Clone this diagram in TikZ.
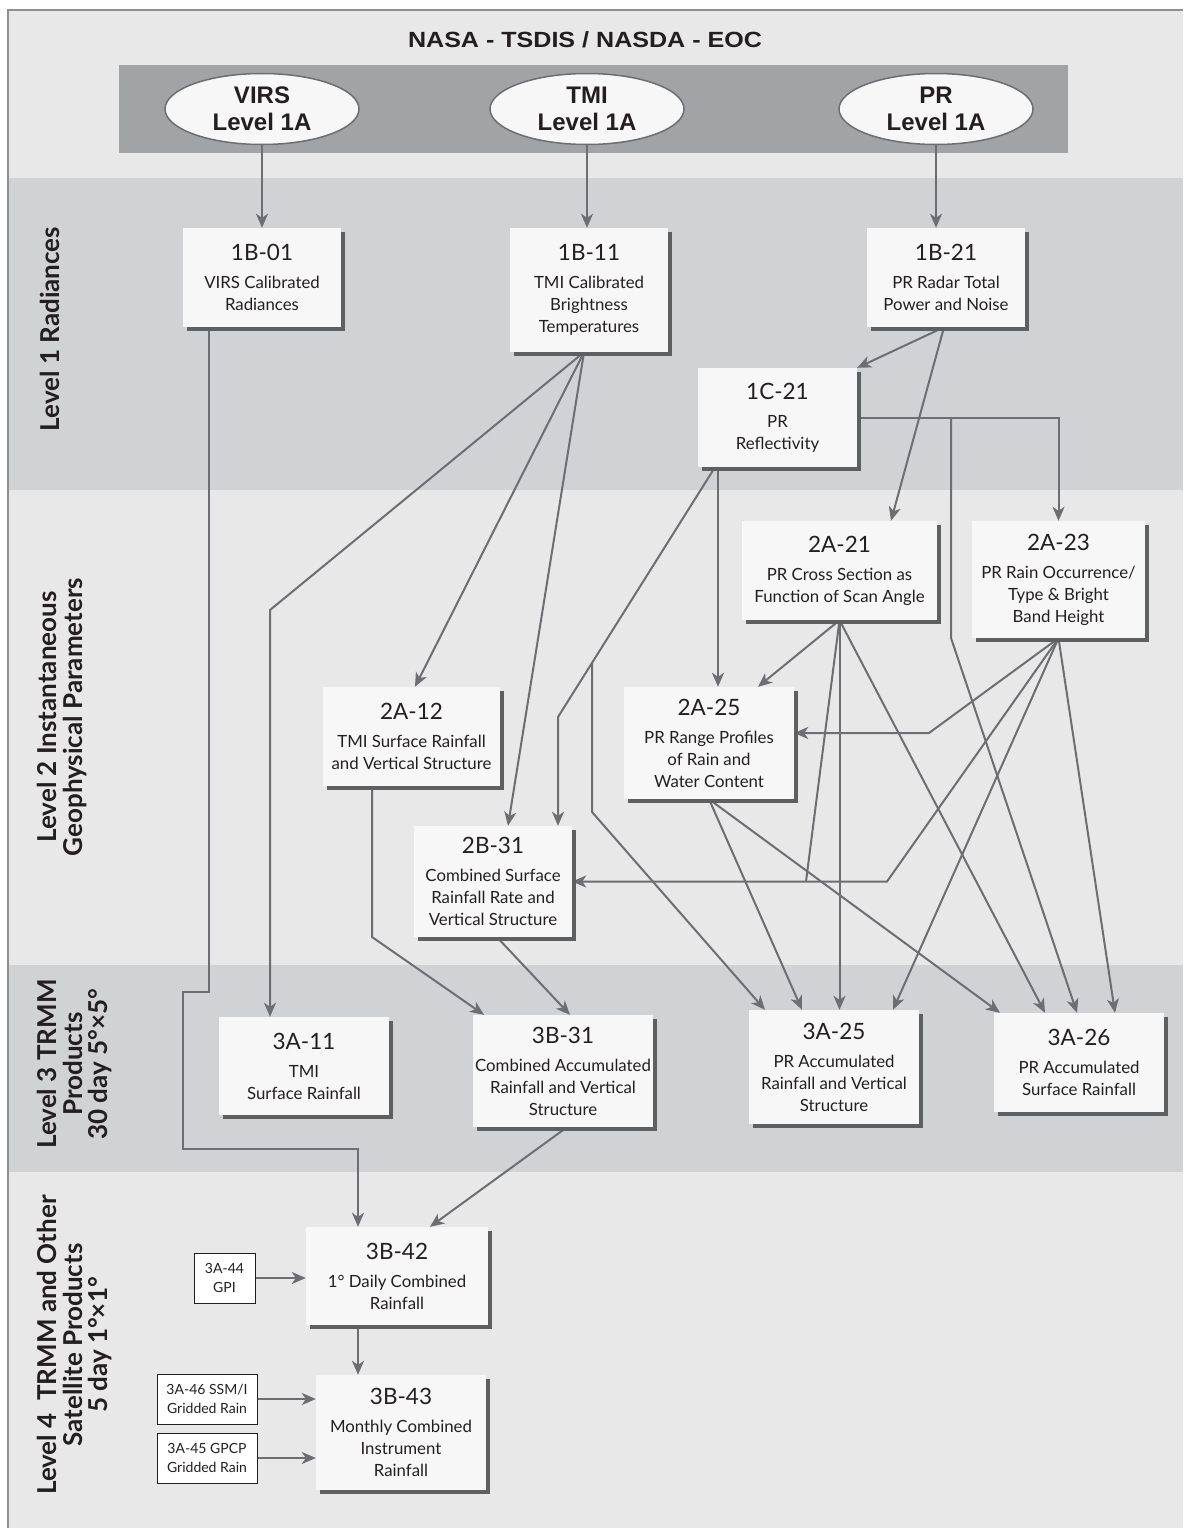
\documentclass[tikz,border=0pt]{standalone}
\usepackage{fontspec}
\setmainfont{Lato}
\newfontfamily\hdrfont[FakeStretch=1.14]{Liberation Sans}
\newfontfamily\ellfont{Liberation Sans}
\usetikzlibrary{arrows.meta,shadows,shapes.geometric}
\pgfdeclarelayer{bands}
\pgfdeclarelayer{links}
\pgfsetlayers{bands,links,main}

\definecolor{paleBg}{HTML}{E8E8E9}
\definecolor{bandBg}{HTML}{D1D2D4}
\definecolor{hdrBg}{HTML}{A2A3A5}
\definecolor{linkGray}{HTML}{6D6E71}
\definecolor{shadeGray}{HTML}{5E5F61}
\definecolor{boxFill}{HTML}{F7F7F7}
\definecolor{inkCol}{HTML}{231F20}
\definecolor{frameGray}{HTML}{8E8F91}

\newcommand{\ttl}[1]{{\fontsize{22.5}{26}\selectfont #1}\\[6pt]}

\tikzset{
  prod/.style={fill=boxFill, inner sep=0pt, align=center, text=inkCol,
    general shadow={fill=shadeGray, shadow xshift=4pt, shadow yshift=-4pt},
    font=\fontsize{16.8}{22}\selectfont},
  src/.style={ellipse, draw=linkGray, line width=1.5pt, fill=boxFill,
    minimum width=194pt, minimum height=71pt, inner sep=0pt, align=center,
    text=inkCol, font=\ellfont\bfseries\fontsize{24}{27}\selectfont},
  aux/.style={draw=inkCol, line width=1pt, fill=white, inner sep=0pt,
    align=center, text=inkCol, font=\fontsize{14}{19}\selectfont},
  link/.style={draw=linkGray, line width=2pt,
    -{Stealth[length=14pt,width=12pt,inset=4pt]}},
  wire/.style={draw=linkGray, line width=2pt},
  lvl/.style={rotate=90, align=center, text=inkCol,
    font=\bfseries\fontsize{26}{25.5}\selectfont}
}

\begin{document}
\begin{tikzpicture}[x=1pt,y=-1pt]
\useasboundingbox (0,0) rectangle (1183,1528);

% ---------- background bands ----------
\begin{pgfonlayer}{bands}
  \fill[white] (0,0) rectangle (1183,1528);
  \fill[paleBg] (8,10) rectangle (1183,1528);
  \fill[bandBg] (8,178) rectangle (1183,490);
  \fill[bandBg] (8,965) rectangle (1183,1172);
  \fill[hdrBg] (119,65) rectangle (1068,153);
  \draw[frameGray, line width=2pt] (8,1528) -- (8,10) -- (1183,10);
\end{pgfonlayer}

% ---------- header ----------
\node[text=inkCol, font=\hdrfont\bfseries\fontsize{22}{26}\selectfont] (hdr) at (585,40) {NASA - TSDIS / NASDA - EOC};
\node[src] (vi) at (262,109) {VIRS\\Level 1A};
\node[src] (tm) at (587,109) {TMI\\Level 1A};
\node[src] (pr) at (936,109) {PR\\Level 1A};

% ---------- level labels ----------
\node[lvl] (lvA) at (50,329) {Level 1 Radiances};
\node[lvl] (lvB) at (62,717) {Level 2 Instantaneous\\Geophysical Parameters};
\node[lvl] (lvC) at (75,1064) {Level 3 TRMM\\Products\\30 day 5°×5°};
\node[lvl] (lvD) at (75,1345) {Level 4\ \ TRMM and Other\\Satellite Products\\5 day 1°×1°};

% ---------- level 1 products ----------
\node[prod, minimum width=158pt, minimum height=99pt] (b101) at (262,277.5)
  {\ttl{1B-01}VIRS Calibrated\\Radiances};
\node[prod, minimum width=158pt, minimum height=124pt] (b111) at (589,290)
  {\ttl{1B-11}TMI Calibrated\\Brightness\\Temperatures};
\node[prod, minimum width=158pt, minimum height=99pt] (b121) at (946,277.5)
  {\ttl{1B-21}PR Radar Total\\Power and Noise};
\node[prod, minimum width=159pt, minimum height=99pt] (c121) at (777.5,417.5)
  {\ttl{1C-21}PR\\Reflectivity};

% ---------- level 2 products ----------
\node[prod, minimum width=195pt, minimum height=99pt] (a221) at (839.5,570.5)
  {\ttl{2A-21}PR Cross Section as\\Function of Scan Angle};
\node[prod, minimum width=173pt, minimum height=117pt] (a223) at (1058.5,579.5)
  {\ttl{2A-23}PR Rain Occurrence/\\Type \& Bright\\Band Height};
\node[prod, minimum width=177pt, minimum height=99pt] (a212) at (411.5,736.5)
  {\ttl{2A-12}TMI Surface Rainfall\\and Vertical Structure};
\node[prod, minimum width=170pt, minimum height=112pt] (a225) at (709,743)
  {\ttl{2A-25}PR Range Profiles\\of Rain and\\Water Content};
\node[prod, minimum width=158pt, minimum height=111pt] (b231) at (493,881.5)
  {\ttl{2B-31}Combined Surface\\Rainfall Rate and\\Vertical Structure};

% ---------- level 3 products ----------
\node[prod, minimum width=170pt, minimum height=98pt] (a311) at (304,1066)
  {\ttl{3A-11}TMI\\Surface Rainfall};
\node[prod, minimum width=180pt, minimum height=112pt] (b331) at (563,1071)
  {\ttl{3B-31}Combined Accumulated\\Rainfall and Vertical\\Structure};
\node[prod, minimum width=170pt, minimum height=114pt] (a325) at (834,1067)
  {\ttl{3A-25}PR Accumulated\\Rainfall and Vertical\\Structure};
\node[prod, minimum width=170pt, minimum height=99pt] (a326) at (1079,1062.5)
  {\ttl{3A-26}PR Accumulated\\Surface Rainfall};

% ---------- level 4 products ----------
\node[prod, minimum width=182pt, minimum height=98pt] (b342) at (397,1276)
  {\ttl{3B-42}1° Daily Combined\\Rainfall};
\node[prod, minimum width=170pt, minimum height=115pt] (b343) at (401,1432.5)
  {\ttl{3B-43}Monthly Combined\\Instrument\\Rainfall};
\node[aux, minimum width=61pt, minimum height=50pt] (s344) at (224.5,1278) {3A-44\\GPI};
\node[aux, minimum width=100pt, minimum height=50pt] (s346) at (207,1399) {3A-46 SSM/I\\Gridded Rain};
\node[aux, minimum width=100pt, minimum height=50pt] (s345) at (207,1458) {3A-45 GPCP\\Gridded Rain};

% ---------- data flow ----------
\begin{pgfonlayer}{links}
  \draw[link] (vi.south) -- (vi.south |- b101.north);
  \draw[link] (tm.south) -- (tm.south |- b111.north);
  \draw[link] (pr.south) -- (pr.south |- b121.north);

  % 1B-01 runs down the left side into 3B-42
  \draw[link] (b101.south -| 209,0) -- (209,992) -- (183,992) -- (183,1149)
    -- (358,1149) -- (b342.north -| 358,0);

  % 1B-11 fan
  \draw[link] (b111.south -| 584,0) -- (270,610) -- (a311.north -| 270,0);
  \draw[link] (b111.south -| 584,0) -- (a212.north -| 415,0);
  \draw[link] (b111.south -| 584,0) -- (b231.north -| 508,0);

  % 1B-21 fan
  \draw[link] (b121.south -| 944,0) -- (c121.north east);
  \draw[link] (b121.south -| 944,0) -- (a221.north -| 891,0);

  % 1C-21 fan
  \draw[link] (c121.east) -| (a223.north);
  \coordinate (cj) at (951,417.5);
  \draw[link] (cj) -- (951,638) -- (a326.north -| 1077,0);
  \draw[link] (c121.south -| 718,0) -- (a225.north -| 718,0);
  \draw[link] (c121.south -| 715,0) -- (558,717) -- (b231.north -| 558,0);
  \coordinate (cb) at (592,663);
  \draw[link] (cb) -- (592,812) -- (a325.north -| 765,0);

  % 2A-21 fan
  \draw[link] (a221.south) -- (a225.north -| 758,0);
  \draw[link] (a221.south) -- (a221.south |- a325.north);
  \draw[link] (a221.south) -- (a326.north -| 1045,0);
  \draw[wire] (a221.south) -- (806,881.5);

  % 2A-23 fan
  \draw[link] (a223.south) -- (887,881.5) -- (b231.east);
  \draw[link] (a223.south) -- (929,733) -- (a225.east |- 0,733);
  \draw[link] (a223.south) -- (a325.north -| 893,0);
  \draw[link] (a223.south) -- (a326.north -| 1115,0);

  % 2A-25 fan
  \draw[link] (a225.south) -- (a325.north -| 802,0);
  \draw[link] (a225.south) -- (a326.north -| 1000,0);

  % into 3B-31
  \draw[link] (a212.south -| 372,0) -- (372,937) -- (b331.north -| 484,0);
  \draw[link] (b231.south -| 497,0) -- (b331.north -| 570,0);
  \draw[link] (b331.south -| 567,0) -- (b342.north -| 430,0);

  % level 4
  \draw[link] (s344.east) -- (s344.east -| b342.west);
  \draw[link] (b342.south -| 358,0) -- (b343.north -| 358,0);
  \draw[link] (s346.east) -- (s346.east -| b343.west);
  \draw[link] (s345.east) -- (s345.east -| b343.west);
\end{pgfonlayer}
\end{tikzpicture}
\end{document}
